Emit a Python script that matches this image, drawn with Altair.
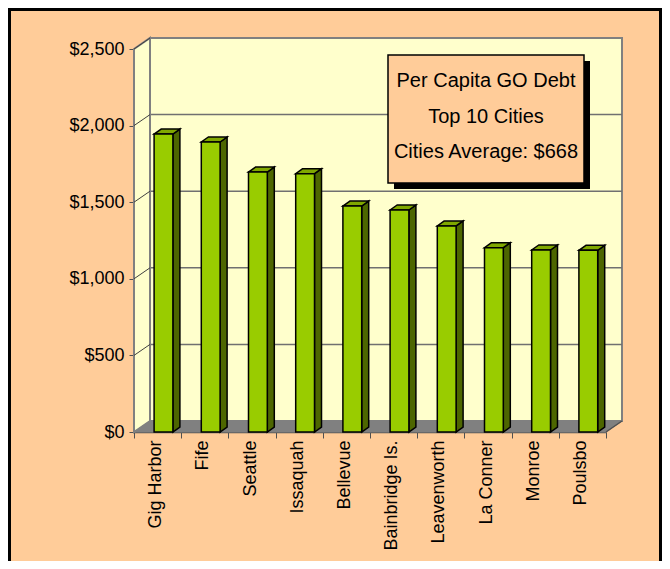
import json
import altair as alt
import pandas as pd

# ---- data ----
cities = ["Gig Harbor", "Fife", "Seattle", "Issaquah", "Bellevue",
          "Bainbridge Is.", "Leavenworth", "La Conner", "Monroe", "Poulsbo"]
debt = [1945, 1893, 1697, 1686, 1475, 1449, 1345, 1203, 1188, 1186]
y_ticks = [0, 500, 1000, 1500, 2000, 2500]
box_lines = ["Per Capita GO Debt", "Top 10 Cities", "Cities Average: $668"]

# ---- geometry / style constants ----
W, H = 472, 383
X_MIN, X_MAX = -0.5, 9.5
Y_MAX = 2500
PX = W / (X_MAX - X_MIN)          # pixels per category unit
PY = H / Y_MAX                    # pixels per dollar
WALL_DX, WALL_DY = 16 / PX, 11 / PY
BAR_L, BAR_R = -3.5 / PX, 15.3 / PX
BAR_DX, BAR_DY = 7 / PX, 5 / PY

FRONT, SIDE, TOP = "#99CC00", "#4D6600", "#80A800"
WALL, WALLLINE, FLOOR = "#FFFFCC", "#808080", "#808080"
BG = "#FFCC99"
LABEL_FONT = "Liberation Sans"

xscale = alt.Scale(domain=[X_MIN, X_MAX], nice=False, zero=False)
yscale = alt.Scale(domain=[0, Y_MAX], nice=False, zero=False)

names_js = json.dumps(cities)
x_vals = [X_MIN + k * 0.5 for k in range(21)]
xaxis = alt.Axis(
    values=x_vals, title=None, grid=False,
    labelExpr=f"datum.value % 1 === 0 ? {names_js}[datum.value] : ''",
    labelAngle=270, labelFont=LABEL_FONT, labelFontSize=18, labelColor="black",
    labelPadding=2, labelOffset=-2, labelOverlap=False, labelFlush=False, labelBound=False,
    tickSize=6, tickColor="#505050", tickWidth=1,
    tickOpacity={"condition": {"test": "datum.value % 1 !== 0", "value": 1}, "value": 0},
    domainColor="#505050", domainWidth=1.5,
)
yaxis = alt.Axis(
    values=y_ticks, format="$,.0f", title=None, grid=False,
    labelFont=LABEL_FONT, labelFontSize=18, labelColor="black", labelPadding=5,
    tickSize=5, tickColor="#505050", tickWidth=1,
    domainColor="#808080", domainWidth=2,
)

XQ = alt.X("x:Q", scale=xscale, axis=xaxis)
YQ = alt.Y("y:Q", scale=yscale, axis=yaxis)

# ---- walls and floor ----
back_wall = pd.DataFrame([{"x": X_MIN + WALL_DX, "x2": X_MAX + WALL_DX,
                           "y": WALL_DY, "y2": Y_MAX + WALL_DY}])
left_wall = pd.DataFrame([{"x": X_MIN, "y": 0, "y2": Y_MAX},
                          {"x": X_MIN + WALL_DX, "y": WALL_DY, "y2": Y_MAX + WALL_DY}])
floor = pd.DataFrame([{"y": 0, "x": X_MIN, "x2": X_MAX},
                      {"y": WALL_DY, "x": X_MIN + WALL_DX, "x2": X_MAX + WALL_DX}])
grid = pd.DataFrame([{"x": X_MIN + WALL_DX, "x2": X_MAX + WALL_DX,
                      "y": v + WALL_DY, "y2": v + WALL_DY} for v in y_ticks[1:-1]])
side_ticks = pd.DataFrame([{"x": X_MIN, "x2": X_MIN + WALL_DX,
                            "y": v, "y2": v + WALL_DY} for v in y_ticks[1:]])
floor_edge = pd.DataFrame([{"x": X_MAX, "x2": X_MAX + WALL_DX, "y": 0, "y2": WALL_DY}])

# ---- bars ----
front_rows, side_rows, top_rows = [], [], []
for i, (c, v) in enumerate(zip(cities, debt)):
    front_rows.append({"city": c, "x": i + BAR_L, "x2": i + BAR_R, "y": 0, "y2": v})
    side_rows.append({"city": c, "x": i + BAR_R, "y": v, "y2": 0})
    side_rows.append({"city": c, "x": i + BAR_R + BAR_DX, "y": v + BAR_DY, "y2": BAR_DY})
    top_rows.append({"city": c, "y": v, "x": i + BAR_L, "x2": i + BAR_R})
    top_rows.append({"city": c, "y": v + BAR_DY, "x": i + BAR_L + BAR_DX, "x2": i + BAR_R + BAR_DX})
front_df, side_df, top_df = map(pd.DataFrame, (front_rows, side_rows, top_rows))

layers = []
layers.append(alt.Chart(back_wall).mark_rect(fill=WALL, stroke=WALLLINE, strokeWidth=2)
              .encode(x=XQ, x2="x2:Q", y=YQ, y2="y2:Q"))
layers.append(alt.Chart(grid).mark_rule(color="#707070", strokeWidth=1.5)
              .encode(x=XQ, x2="x2:Q", y=YQ, y2="y2:Q"))
layers.append(alt.Chart(left_wall).mark_area(orient="vertical", fill=WALL, stroke=WALLLINE, strokeWidth=2)
              .encode(x=XQ, y=YQ, y2="y2:Q"))
layers.append(alt.Chart(side_ticks).mark_rule(color="#404040", strokeWidth=1)
              .encode(x=XQ, x2="x2:Q", y=YQ, y2="y2:Q"))
layers.append(alt.Chart(floor).mark_area(orient="horizontal", fill=FLOOR, stroke=FLOOR, strokeWidth=1)
              .encode(y=YQ, x=XQ, x2="x2:Q"))
layers.append(alt.Chart(floor_edge).mark_rule(color="#505050", strokeWidth=1.5)
              .encode(x=XQ, x2="x2:Q", y=YQ, y2="y2:Q"))
layers.append(alt.Chart(side_df).mark_area(orient="vertical", fill=SIDE, stroke="black",
                                            strokeWidth=1.5, strokeJoin="miter")
              .encode(x=XQ, y=YQ, y2="y2:Q", detail="city:N"))
layers.append(alt.Chart(top_df).mark_area(orient="horizontal", fill=TOP, stroke="black",
                                           strokeWidth=1.5, strokeJoin="miter")
              .encode(y=YQ, x=XQ, x2="x2:Q", detail="city:N"))
layers.append(alt.Chart(front_df).mark_rect(fill=FRONT, stroke="black", strokeWidth=1.5)
              .encode(x=XQ, x2="x2:Q", y=YQ, y2="y2:Q"))

# ---- annotation box ----
one = alt.Data(values=[{}])
BX0, BX1, BY0, BY1 = 254, 450, 6, 134
layers.append(alt.Chart(one).mark_rect(fill="black")
              .encode(x=alt.value(BX0 + 6), x2=alt.value(BX1 + 6), y=alt.value(BY0 + 6), y2=alt.value(BY1 + 6)))
layers.append(alt.Chart(one).mark_rect(fill=BG, stroke="black", strokeWidth=1.5)
              .encode(x=alt.value(BX0), x2=alt.value(BX1), y=alt.value(BY0), y2=alt.value(BY1)))
for k, line in enumerate(box_lines):
    layers.append(alt.Chart(one).mark_text(font="Liberation Sans", fontSize=20,
                                           align="center", baseline="middle", color="black")
                  .encode(x=alt.value((BX0 + BX1) / 2), y=alt.value(32 + 35.7 * k), text=alt.value(line)))

# ---- outer frame ----
PAD_L, PAD_T, TOTAL_W, TOTAL_H = 126, 41, 654, 553
layers.append(alt.Chart(one).mark_rect(fill="transparent", stroke="black", strokeWidth=3)
              .encode(x=alt.value(-PAD_L + 1.5), x2=alt.value(TOTAL_W - PAD_L - 1.5),
                      y=alt.value(-PAD_T + 1.5), y2=alt.value(TOTAL_H - PAD_T + 20)))

chart = alt.layer(*layers).properties(
    width=W, height=H,
    autosize=alt.AutoSizeParams(type="none"),
    padding={"left": PAD_L, "top": PAD_T, "right": TOTAL_W - PAD_L - W, "bottom": TOTAL_H - PAD_T - H},
    background=BG,
).configure_view(stroke=None)

chart.save("out.html", embed_options={"renderer": "svg", "actions": False})
